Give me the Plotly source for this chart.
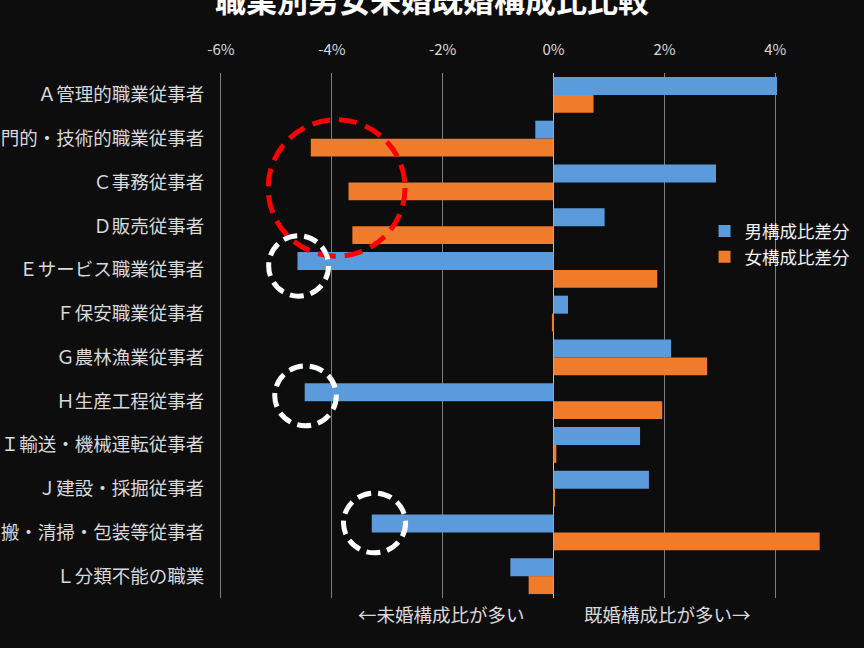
import plotly.graph_objects as go

# 職業別 男女の未婚・既婚構成比の差 (%)
occupations = [
    "Ａ管理的職業従事者",
    "Ｂ専門的・技術的職業従事者",
    "Ｃ事務従事者",
    "Ｄ販売従事者",
    "Ｅサービス職業従事者",
    "Ｆ保安職業従事者",
    "Ｇ農林漁業従事者",
    "Ｈ生産工程従事者",
    "Ｉ輸送・機械運転従事者",
    "Ｊ建設・採掘従事者",
    "Ｋ運搬・清掃・包装等従事者",
    "Ｌ分類不能の職業",
]
male_diff = [4.03, -0.33, 2.93, 0.92, -4.62, 0.26, 2.12, -4.49, 1.56, 1.72, -3.28, -0.78]
female_diff = [0.72, -4.38, -3.70, -3.63, 1.87, -0.03, 2.77, 1.96, 0.05, 0.01, 4.80, -0.45]
tick_vals = [-6, -4, -2, 0, 2, 4]
tick_text = ["-6%", "-4%", "-2%", "0%", "2%", "4%"]

font = "Noto Sans CJK JP"
bg = "#0d0d0d"

fig = go.Figure()
fig.add_bar(name="男構成比差分", x=male_diff, y=occupations, orientation="h",
            marker=dict(color="#5b9bdb", line=dict(width=0)))
fig.add_bar(name="女構成比差分", x=female_diff, y=occupations, orientation="h",
            marker=dict(color="#f07b2b", line=dict(width=0)))

fig.update_layout(
    width=864, height=648,
    paper_bgcolor=bg, plot_bgcolor=bg,
    margin=dict(l=221, r=0, t=73, b=50),
    barmode="group", bargap=0.18, bargroupgap=0,
    font=dict(family=font, color="#d9d9d9"),
    title=dict(text="<b>職業別男女未婚既婚構成比比較</b>", x=0.5, xanchor="center",
               y=0.998, yanchor="middle", yref="container",
               font=dict(size=31, color="#ffffff", family=font)),
    legend=dict(x=0.752, y=0.674, xanchor="left", yanchor="middle",
                traceorder="normal", bgcolor="rgba(0,0,0,0)",
                font=dict(size=17.5, color="#f2f2f2")),
    xaxis=dict(side="top", range=[-6, 5.6], tickvals=tick_vals, ticktext=tick_text,
               showgrid=True, gridcolor="#7f7f7f", gridwidth=1,
               zeroline=True, zerolinecolor="#bfbfbf", zerolinewidth=1,
               tickfont=dict(size=15, color="#d9d9d9"), ticklabelstandoff=14,
               automargin=False, fixedrange=True),
    yaxis=dict(autorange="reversed", showgrid=False, showline=True, linecolor="#7f7f7f",
               linewidth=1, tickfont=dict(size=18.5, color="#d9d9d9"),
               ticklabelstandoff=12, automargin=False),
)

# 強調用の破線の丸
circles = [
    dict(x0=-5.15, x1=-2.68, y0=0.651, y1=0.911, color="#ff0000", dash="18px,9px"),
    dict(x0=-5.14, x1=-4.06, y0=0.575, y1=0.690, color="#ffffff", dash="14px,7px"),
    dict(x0=-5.03, x1=-3.92, y0=0.328, y1=0.442, color="#ffffff", dash="14px,7px"),
    dict(x0=-3.79, x1=-2.67, y0=0.086, y1=0.200, color="#ffffff", dash="14px,7px"),
]
for c in circles:
    fig.add_shape(type="circle", xref="x", yref="paper",
                  x0=c["x0"], x1=c["x1"], y0=c["y0"], y1=c["y1"],
                  line=dict(color=c["color"], width=5, dash=c["dash"]))

fig.add_annotation(text="←未婚構成比が多い", xref="x", yref="paper", x=-0.48, y=-0.03,
                   xanchor="right", yanchor="middle", showarrow=False,
                   font=dict(size=18.5, color="#d9d9d9"))
fig.add_annotation(text="既婚構成比が多い→", xref="x", yref="paper", x=0.52, y=-0.03,
                   xanchor="left", yanchor="middle", showarrow=False,
                   font=dict(size=18.5, color="#d9d9d9"))

fig.write_html("out.html", config={"displayModeBar": False},
               post_script="document.body.style.margin='0';")
